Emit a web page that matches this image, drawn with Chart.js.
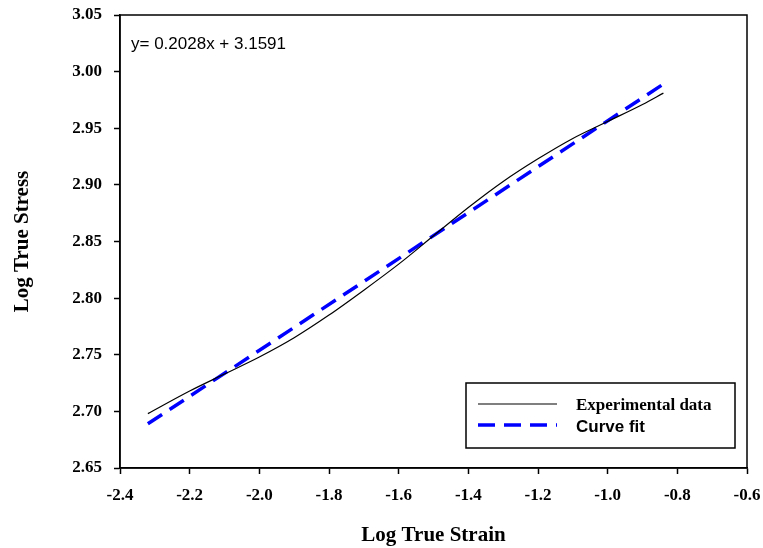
<!DOCTYPE html>
<html>
<head>
<meta charset="utf-8">
<script src="https://cdn.jsdelivr.net/npm/chart.js@4.4.0/dist/chart.umd.min.js"></script>
<style>
  html, body { margin: 0; padding: 0; background: #fff; }
  #wrap { width: 763px; height: 548px; }
</style>
</head>
<body>
<div id="wrap"><canvas id="stressChart"></canvas></div>
<script>
// experimental curve
const strainExp = [-2.32, -2.2, -2.1, -2.0, -1.9, -1.8, -1.7, -1.6, -1.5, -1.4, -1.3, -1.2, -1.1, -1.0, -0.9, -0.84];
const stressExp = [2.698, 2.718, 2.733, 2.748, 2.765, 2.785, 2.807, 2.830, 2.855, 2.880, 2.903, 2.923, 2.941, 2.956, 2.971, 2.981];

// fitted straight line end points
const strainFit = [-2.32, -0.84];
const stressFit = [2.689, 2.989];

const xTicks = [-2.4, -2.2, -2.0, -1.8, -1.6, -1.4, -1.2, -1.0, -0.8, -0.6];
const yTicks = [2.65, 2.70, 2.75, 2.80, 2.85, 2.90, 2.95, 3.00, 3.05];

const seriesNames = ['Experimental data', 'Curve fit'];
const equationText = 'y= 0.2028x + 3.1591';

const toPoints = (xs, ys) => xs.map((x, i) => ({ x: x, y: ys[i] }));

// box round the plot, equation text and the legend
const extras = {
    id: 'extras',
    afterDraw(chart) {
        const { ctx, chartArea: a } = chart;
        ctx.save();
        ctx.strokeStyle = '#000';
        ctx.lineWidth = 1.5;
        ctx.strokeRect(a.left, a.top, a.right - a.left, a.bottom - a.top);

        ctx.fillStyle = '#000';
        ctx.font = '17px "Liberation Sans", Arial, sans-serif';
        ctx.textBaseline = 'middle';
        ctx.fillText(equationText, a.left + 11, a.top + 29);

        // legend
        ctx.lineWidth = 1.5;
        ctx.strokeRect(466, 383, 269, 65);
        const ds = chart.data.datasets;
        ds.forEach((d, i) => {
            const y = 404 + i * 21;
            ctx.beginPath();
            ctx.strokeStyle = d.borderColor;
            ctx.lineWidth = d.borderWidth;
            ctx.setLineDash(d.borderDash || []);
            ctx.moveTo(478, y);
            ctx.lineTo(557, y);
            ctx.stroke();
            ctx.setLineDash([]);
            ctx.font = i === 0 ? 'bold 17px "Liberation Serif", "Times New Roman", serif'
                               : 'bold 17px "Liberation Sans", Arial, sans-serif';
            ctx.fillStyle = '#000';
            ctx.fillText(d.label, 576, y + 2);
        });
        ctx.restore();
    }
};

const tickFont = { family: '"Liberation Serif", "Times New Roman", serif', size: 17, weight: 'bold' };
const titleFont = { family: '"Liberation Serif", "Times New Roman", serif', size: 21, weight: 'bold' };

new Chart(document.getElementById('stressChart'), {
    type: 'scatter',
    data: {
        datasets: [{
            label: seriesNames[0],
            data: toPoints(strainExp, stressExp),
            showLine: true,
            borderColor: '#000',
            borderWidth: 1.2,
            pointRadius: 0,
            cubicInterpolationMode: 'monotone'
        }, {
            label: seriesNames[1],
            data: toPoints(strainFit, stressFit),
            showLine: true,
            borderColor: '#0000ff',
            borderWidth: 3.5,
            borderDash: [17, 9],
            pointRadius: 0
        }]
    },
    options: {
        responsive: true,
        maintainAspectRatio: false,
        animation: false,
        layout: { padding: { top: 15, right: 16, left: 0, bottom: 0 } },
        plugins: {
            legend: { display: false },
            tooltip: { enabled: false }
        },
        scales: {
            x: {
                type: 'linear',
                min: -2.4,
                max: -0.6,
                afterBuildTicks: s => { s.ticks = xTicks.map(v => ({ value: v })); },
                afterFit: s => { s.height = 80; s.paddingLeft = 0; s.paddingRight = 0; },
                grid: { drawOnChartArea: false, drawTicks: true, tickLength: 6, color: '#000', tickWidth: 1.5 },
                border: { display: true, color: '#000', width: 1.5 },
                ticks: { color: '#000', font: tickFont, padding: 11, maxRotation: 0, callback: v => v.toFixed(1) },
                title: { display: true, text: 'Log True Strain', color: '#000', font: titleFont, padding: { top: 10, bottom: 0 } }
            },
            y: {
                type: 'linear',
                min: 2.65,
                max: 3.05,
                afterBuildTicks: s => { s.ticks = yTicks.map(v => ({ value: v })); },
                afterFit: s => { s.width = 120; s.paddingTop = 0; s.paddingBottom = 0; },
                grid: { drawOnChartArea: false, drawTicks: true, tickLength: 6, color: '#000', tickWidth: 1.5 },
                border: { display: true, color: '#000', width: 1.5 },
                ticks: { color: '#000', font: tickFont, padding: 12, callback: v => v.toFixed(2) },
                title: { display: true, text: 'Log True Stress', color: '#000', font: titleFont, padding: { top: 10, bottom: 0 } }
            }
        }
    },
    plugins: [extras]
});
</script>
</body>
</html>
